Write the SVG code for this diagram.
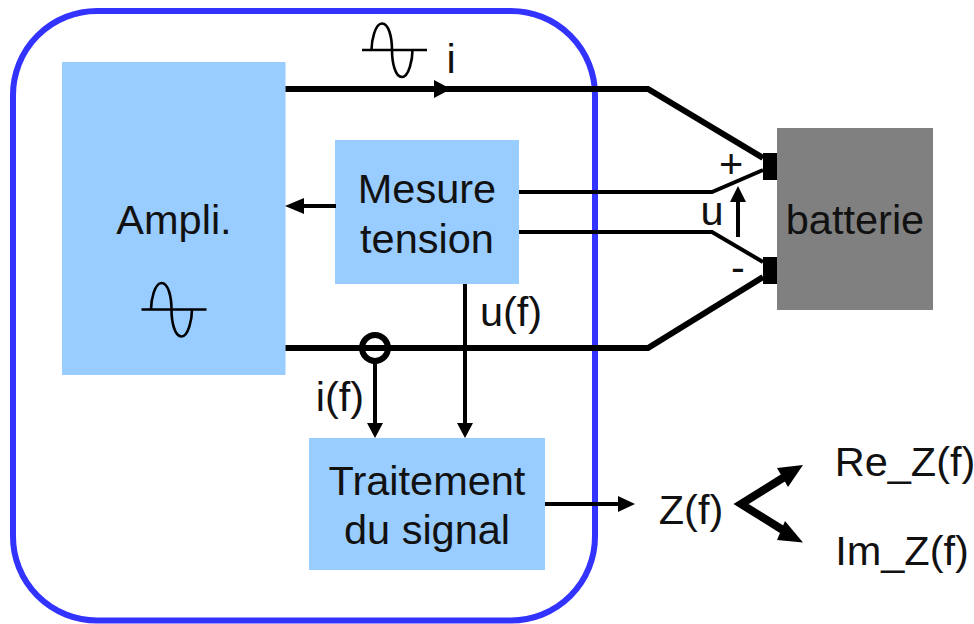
<svg xmlns="http://www.w3.org/2000/svg" width="974" height="624" viewBox="0 0 974 624">
<style>
text{font-family:"Liberation Sans",Arial,sans-serif;font-size:41.500px;fill:#111;text-anchor:middle}
.box{fill:#99ccff}
.thick{fill:none;stroke:#000;stroke-width:6}
.med{fill:none;stroke:#000;stroke-width:4}
.wave{fill:none;stroke:#000;stroke-width:2.6}
.head{fill:#000;stroke:none}
</style>
<defs>
<g id="sine">
<path class="wave" d="M-30 0H35"/>
<path class="wave" d="M-20.500 0C-20.500 -9 -17 -26.500 -10 -26.500C-3 -26.500 0 -12 0 0C0 12 3 27 10 27C17 27 20.500 9 20.500 0"/>
</g>
</defs>
<g id="ampli">
<rect class="box" x="62" y="62" width="223.500" height="313"/>
<text x="174" y="234">Ampli.</text>
<use href="#sine" x="171.500" y="309.500"/>
</g>
<g id="mesure">
<rect class="box" x="335" y="140" width="184" height="144"/>
<text x="427" y="203">Mesure</text>
<text x="427" y="253">tension</text>
</g>
<g id="traitement">
<rect class="box" x="309" y="438" width="236" height="132"/>
<text x="427" y="495">Traitement</text>
<text x="427" y="544">du signal</text>
</g>
<g id="batterie">
<rect x="777" y="128" width="156" height="182" fill="#808080"/>
<rect x="763" y="153" width="14" height="27" fill="#000"/>
<rect x="763" y="257" width="14" height="27" fill="#000"/>
<text x="855" y="234">batterie</text>
</g>
<g id="enceinte">
<rect x="13" y="11" width="582" height="609.500" rx="84" ry="84" fill="none" stroke="#3333ff" stroke-width="6"/>
</g>
<g id="connectors">
<path class="thick" d="M285.500 89H648L763 158"/>
<path class="thick" d="M285.500 348H648L763 277"/>
<path class="med" d="M519 192H712L763 170"/>
<path class="med" d="M519 232H712L763 262"/>
<path class="head" d="M451 89L434 80V98Z"/>
<use href="#sine" x="392" y="50"/>
<circle cx="375" cy="348" r="13" fill="none" stroke="#000" stroke-width="6"/>
<path class="med" d="M375 361V425"/>
<path class="head" d="M375 438L367 423H383Z"/>
<path class="med" d="M465 284V425"/>
<path class="head" d="M465 438L457 423H473Z"/>
<path class="med" d="M336 206H298"/>
<path class="head" d="M285 206L304 198V214Z"/>
<path class="med" d="M738 237V198"/>
<path class="head" d="M738 186L730 202H746Z"/>
<path class="med" d="M545 504H622"/>
<path class="head" d="M635 504L618 496V512Z"/>
<path d="M786 476L741 504L786 532" fill="none" stroke="#000" stroke-width="8"/>
<path class="head" d="M803 465L788 487L777 468Z"/>
<path class="head" d="M803 542.500L777 540L785 521Z"/>
</g>
<g id="labels">
<text x="451" y="73">i</text>
<text x="731" y="178">+</text>
<text x="712" y="225">u</text>
<text x="738" y="281">-</text>
<text x="511" y="326">u(f)</text>
<text x="340" y="411">i(f)</text>
<text x="691" y="524">Z(f)</text>
<text x="905" y="476">Re_Z(f)</text>
<text x="902" y="565">Im_Z(f)</text>
</g>
</svg>
